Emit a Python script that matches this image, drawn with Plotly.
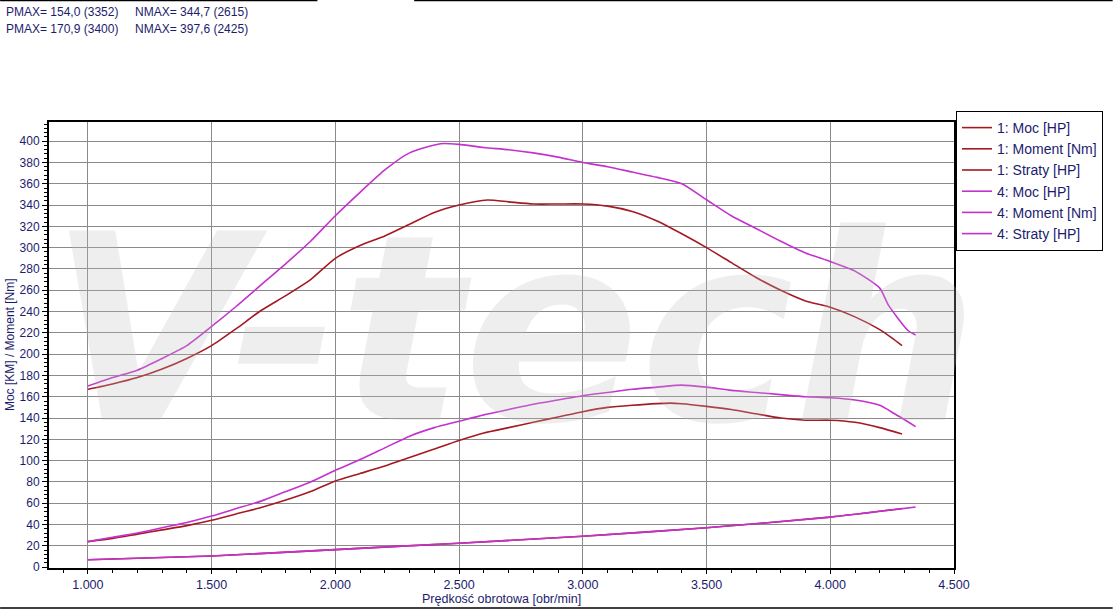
import plotly.graph_objects as go

# ---- data ----
rpm_moc1 = [1000, 1100, 1200, 1300, 1400, 1500, 1600, 1700, 1800, 1900, 2000, 2100, 2200, 2300, 2400,
            2500, 2600, 2700, 2800, 2900, 3000, 3100, 3200, 3352, 3400, 3500, 3600, 3700, 3800, 3900,
            4000, 4100, 4200, 4290]
moc1 = [24, 27, 31, 35, 39, 44, 50, 56, 63, 71, 81, 88, 95, 103, 111,
        119, 126, 131, 136, 141, 146, 150, 152, 154.0, 153.5, 151, 148, 144, 140, 138,
        138, 136, 131, 125]

rpm_mom1 = [1000, 1100, 1200, 1300, 1400, 1500, 1600, 1700, 1800, 1900, 2000, 2100, 2200, 2300, 2400,
            2500, 2615, 2700, 2800, 2900, 3000, 3100, 3200, 3300, 3400, 3500, 3600, 3700, 3800, 3900,
            4000, 4100, 4200, 4250, 4290]
mom1 = [167, 172, 178, 186, 196, 208, 224, 241, 255, 270, 290, 302, 311, 322, 333,
        340, 344.7, 343, 341, 341, 341, 339, 334, 325, 313, 300, 286, 272, 260, 250,
        244, 235, 223, 215, 208]

rpm_str1 = [1000, 1500, 2000, 2500, 3000, 3500, 4000, 4290]
str1 = [7, 10.5, 16.5, 22.5, 29, 37, 47, 55]

rpm_moc4 = [1000, 1100, 1200, 1300, 1400, 1500, 1600, 1700, 1800, 1900, 2000, 2100, 2200, 2300, 2400,
            2500, 2600, 2700, 2800, 2900, 3000, 3100, 3200, 3300, 3400, 3500, 3600, 3700, 3800, 3900,
            4000, 4100, 4200, 4260, 4345]
moc4 = [24, 28, 32, 37, 42, 48, 55, 62, 71, 80, 91, 101, 112, 123, 131,
        137, 143, 148, 153, 157, 161, 164, 167, 169, 170.9, 169, 166, 164, 162, 160,
        159, 157, 152, 144, 132]

rpm_mom4 = [1000, 1100, 1200, 1300, 1400, 1500, 1600, 1700, 1800, 1900, 2000, 2100, 2200, 2300, 2425,
            2500, 2600, 2700, 2800, 2900, 3000, 3100, 3200, 3300, 3400, 3500, 3600, 3700, 3800, 3900,
            4000, 4100, 4200, 4235, 4315, 4345]
mom4 = [170, 178, 185, 196, 208, 226, 245, 265, 285, 306, 330, 352, 373, 389, 397.6,
        397, 394, 392, 389, 385, 380, 376, 371, 366, 360, 345, 330, 318, 306, 295,
        287, 278, 262, 246, 222, 218]

rpm_str4 = [1000, 1500, 2000, 2500, 3000, 3500, 4000, 4345]
str4 = [7, 10.5, 16.5, 22.5, 29, 37, 47, 56.5]

x_tickvals = [1000, 1500, 2000, 2500, 3000, 3500, 4000, 4500]
x_ticktext = ["1.000", "1.500", "2.000", "2.500", "3.000", "3.500", "4.000", "4.500"]
y_tickvals = list(range(0, 401, 20))

header1 = "PMAX= 154,0 (3352)     NMAX= 344,7 (2615)"
header2 = "PMAX= 170,9 (3400)     NMAX= 397,6 (2425)"
x_title = "Prędkość obrotowa [obr/min]"
y_title = "Moc [KM] / Moment [Nm]"

RED = "rgb(165,25,35)"
MAG = "rgb(195,50,205)"
NAVY = "#1c1c6e"
SANS = "Liberation Sans, Arial"
NARROW = "Liberation Sans Narrow, Arial Narrow, Liberation Sans"

series = [
    ("1: Moc [HP]", rpm_moc1, moc1, RED),
    ("1: Moment [Nm]", rpm_mom1, mom1, RED),
    ("1: Straty [HP]", rpm_str1, str1, RED),
    ("4: Moc [HP]", rpm_moc4, moc4, MAG),
    ("4: Moment [Nm]", rpm_mom4, mom4, MAG),
    ("4: Straty [HP]", rpm_str4, str4, MAG),
]

fig = go.Figure()
for i, (name, xs, ys, col) in enumerate(series):
    fig.add_trace(go.Scatter(x=xs, y=ys, name=name, mode="lines",
                             line=dict(color=col, width=1.6, shape="spline", smoothing=0.6),
                             legendgroup=str(i)))

PL, PR, PT, PB = 49, 956, 122, 568
W, H = 1115, 609
def px(x):
    return (x - PL) / (PR - PL)
def py(y):
    return (PB - y) / (PB - PT)

# watermark
fig.add_annotation(text="<b><i>V-tech</i></b>", x=px(515), y=py(330), xref="paper", yref="paper",
                   showarrow=False, font=dict(size=260, color="rgba(190,190,190,0.26)",
                                               family="DejaVu Sans"))

fig.add_annotation(text=header1, x=px(4), y=py(12), xref="paper", yref="paper",
                   xanchor="left", yanchor="middle", showarrow=False,
                   font=dict(size=12, color=NAVY, family=SANS))
fig.add_annotation(text=header2, x=px(4), y=py(29), xref="paper", yref="paper",
                   xanchor="left", yanchor="middle", showarrow=False,
                   font=dict(size=12, color=NAVY, family=SANS))
fig.add_annotation(text=x_title, x=px(502), y=py(599), xref="paper", yref="paper",
                   xanchor="center", yanchor="middle", showarrow=False,
                   font=dict(size=12.5, color=NAVY, family=NARROW))
fig.add_annotation(text=y_title, x=px(10), y=py(345), xref="paper", yref="paper",
                   xanchor="center", yanchor="middle", showarrow=False, textangle=-90,
                   font=dict(size=12, color=NAVY, family=SANS))

fig.add_shape(type="line", xref="paper", yref="paper", x0=px(0), x1=px(318), y0=py(0.5), y1=py(0.5),
              line=dict(color="black", width=1.5))
fig.add_shape(type="line", xref="paper", yref="paper", x0=px(415), x1=px(1115), y0=py(0.5), y1=py(0.5),
              line=dict(color="black", width=1.5))
fig.add_shape(type="line", xref="paper", yref="paper", x0=px(0), x1=px(1115), y0=py(608), y1=py(608),
              line=dict(color="black", width=1.5))

fig.update_layout(
    width=W, height=H, autosize=False,
    margin=dict(l=PL, r=W - PR, t=PT, b=H - PB, pad=0),
    paper_bgcolor="white", plot_bgcolor="white",
    font=dict(family=SANS, size=12, color=NAVY),
    showlegend=True,
    legend=dict(x=px(958), y=py(111), xanchor="left", yanchor="top",
                bordercolor="black", borderwidth=1, bgcolor="white",
                font=dict(size=14, color=NAVY, family=SANS), tracegroupgap=0, itemwidth=30),
    xaxis=dict(range=[843, 4500], tickvals=x_tickvals, ticktext=x_ticktext, automargin=False,
               showgrid=True, gridcolor="#8a8a8a", gridwidth=1,
               showline=True, linecolor="black", linewidth=2, mirror=True,
               ticks="outside", ticklen=4, tickcolor="black",
               minor=dict(dtick=100, ticks="outside", ticklen=3, tickcolor="black", showgrid=False),
               tickfont=dict(family=NARROW, size=12.5, color=NAVY),
               zeroline=False),
    yaxis=dict(range=[-0.8, 418], tickvals=y_tickvals, automargin=False,
               showgrid=True, gridcolor="#8a8a8a", gridwidth=1,
               showline=True, linecolor="black", linewidth=2, mirror=True,
               ticks="outside", ticklen=5, tickcolor="black",
               minor=dict(dtick=4, ticks="outside", ticklen=3, tickcolor="black", showgrid=False),
               tickfont=dict(size=12, color=NAVY, family=SANS),
               zeroline=False),
)

fig.write_html("out.html", config={"displayModeBar": False},
               post_script="document.body.style.margin='0';document.body.style.padding='0';")
